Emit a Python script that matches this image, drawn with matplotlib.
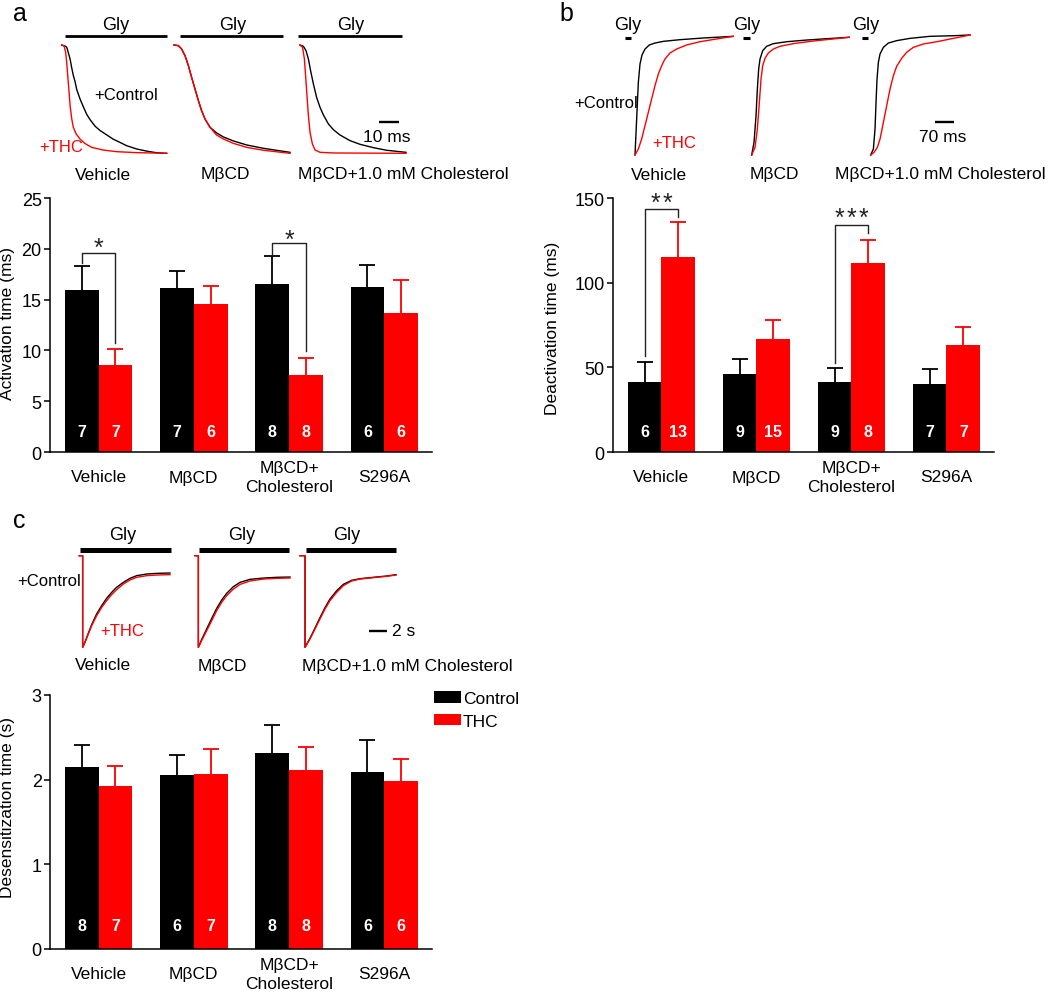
import numpy as np
import matplotlib
matplotlib.use("Agg")
import matplotlib.pyplot as plt
from matplotlib.lines import Line2D
from matplotlib.patches import Patch

plt.rcParams['font.family'] = ['Liberation Sans', 'DejaVu Sans']

# ---------------- data ----------------
groups = ["Vehicle", "MβCD", "MβCD+\nCholesterol", "S296A"]
trace_conditions = ["Vehicle", "MβCD", "MβCD+1.0 mM Cholesterol"]

# (a) activation time (ms)
act_ctrl = [15.9, 16.1, 16.5, 16.2]
act_ctrl_sem = [2.4, 1.7, 2.8, 2.2]
act_thc = [8.6, 14.6, 7.6, 13.7]
act_thc_sem = [1.5, 1.7, 1.65, 3.2]
act_n_ctrl = [7, 7, 8, 6]
act_n_thc = [7, 6, 8, 6]

# (b) deactivation time (ms)
deact_ctrl = [41.1, 45.9, 41.3, 40.2]
deact_ctrl_sem = [12.2, 9.2, 8.3, 8.8]
deact_thc = [115.0, 66.7, 111.4, 63.0]
deact_thc_sem = [21.0, 11.3, 13.6, 11.0]
deact_n_ctrl = [6, 9, 9, 7]
deact_n_thc = [13, 15, 8, 7]

# (c) desensitization time (s)
des_ctrl = [2.15, 2.05, 2.32, 2.09]
des_ctrl_sem = [0.26, 0.24, 0.32, 0.38]
des_thc = [1.93, 2.07, 2.12, 1.99]
des_thc_sem = [0.23, 0.29, 0.27, 0.25]
des_n_ctrl = [8, 6, 8, 6]
des_n_thc = [7, 7, 8, 6]

# traces (a): time in ms, normalised current (1 = baseline, 0 = peak)
a_veh_t_ctrl = [0, 1.7, 2.5, 3.3, 4.2, 5.0, 5.8, 6.7, 7.5, 9.2, 10.8, 12.5, 14.2, 16.7, 19.2, 22.5, 25.8, 29.2, 32.5, 37.5, 42.5, 47.5, 52.5]
a_veh_i_ctrl = [1.0, 0.99, 0.98, 0.93, 0.87, 0.79, 0.72, 0.66, 0.59, 0.50, 0.43, 0.36, 0.31, 0.25, 0.21, 0.17, 0.13, 0.10, 0.07, 0.04, 0.02, 0.005, 0.0]
a_veh_t_thc = [0, 1.2, 2.0, 2.5, 3.0, 3.7, 4.2, 5.0, 5.8, 7.2, 9.2, 11.7, 15.0, 20.8, 27.5, 37.5, 52.5]
a_veh_i_thc = [1.0, 0.99, 0.93, 0.84, 0.72, 0.56, 0.44, 0.32, 0.24, 0.18, 0.13, 0.09, 0.055, 0.03, 0.015, 0.006, 0.0]

a_mb_t = [0, 2.2, 3.8, 5.5, 7.2, 8.8, 10.5, 12.2, 13.8, 15.5, 18.0, 21.3, 24.7, 29.7, 36.3, 44.7, 58.0]
a_mb_i_ctrl = [1.0, 0.994, 0.963, 0.902, 0.809, 0.702, 0.594, 0.486, 0.394, 0.317, 0.24, 0.188, 0.151, 0.114, 0.077, 0.046, 0.009]
a_mb_i_thc = [1.0, 0.994, 0.963, 0.902, 0.809, 0.702, 0.594, 0.486, 0.394, 0.317, 0.24, 0.169, 0.132, 0.092, 0.055, 0.028, 0.0]

a_ch_t_ctrl = [0, 1.7, 3.0, 4.2, 5.3, 6.7, 8.3, 10.0, 11.7, 14.2, 16.7, 20.0, 25.0, 30.0, 36.7, 43.3, 53.0]
a_ch_i_ctrl = [1.0, 0.988, 0.948, 0.871, 0.763, 0.64, 0.517, 0.425, 0.354, 0.271, 0.218, 0.169, 0.117, 0.083, 0.052, 0.028, 0.009]
a_ch_t_thc = [0, 1.3, 2.2, 2.8, 3.5, 4.2, 5.0, 6.2, 7.5, 10.0, 16.7, 53.0]
a_ch_i_thc = [1.0, 0.978, 0.871, 0.717, 0.532, 0.348, 0.194, 0.086, 0.031, 0.009, 0.003, 0.0]

# traces (b): time in ms, normalised current (0 = peak, 1 = baseline)
b_veh_t_ctrl = [0, 6.0, 12.1, 18.1, 25.3, 36.2, 51.9, 72.4, 102.6, 162.9, 247.4, 356.1]
b_veh_i_ctrl = [0, 0.30, 0.606, 0.758, 0.833, 0.883, 0.917, 0.933, 0.947, 0.961, 0.975, 0.989]
b_veh_t_thc = [0, 12.1, 24.1, 36.2, 48.3, 60.4, 72.4, 84.5, 96.6, 108.6, 126.7, 150.9, 187.1, 235.4, 295.7, 356.1]
b_veh_i_thc = [0, 0.05, 0.133, 0.244, 0.356, 0.467, 0.578, 0.675, 0.744, 0.8, 0.85, 0.883, 0.917, 0.944, 0.967, 0.989]

b_mb_t_ctrl = [0, 8.4, 15.7, 20.5, 25.3, 30.2, 39.8, 54.3, 78.5, 126.7, 199.2, 271.6, 353.7]
b_mb_i_ctrl = [0, 0.106, 0.328, 0.55, 0.717, 0.8, 0.869, 0.906, 0.928, 0.944, 0.958, 0.969, 0.981]
b_mb_t_thc = [0, 12.1, 20.5, 27.8, 33.8, 39.8, 48.3, 60.4, 78.5, 102.6, 150.9, 223.3, 295.7, 353.7]
b_mb_i_thc = [0, 0.064, 0.217, 0.439, 0.633, 0.744, 0.806, 0.85, 0.883, 0.906, 0.928, 0.95, 0.967, 0.981]

b_ch_t_ctrl = [0, 9.7, 15.7, 19.3, 22.9, 27.8, 33.8, 45.9, 64.0, 94.1, 142.4, 214.8, 299.3, 359.7]
b_ch_i_ctrl = [0, 0.05, 0.217, 0.439, 0.633, 0.772, 0.842, 0.897, 0.933, 0.953, 0.972, 0.989, 0.994, 1.0]
b_ch_t_thc = [0, 12.1, 24.1, 33.8, 45.9, 57.9, 70.0, 82.1, 94.1, 112.3, 130.4, 154.5, 190.7, 239.0, 299.3, 359.7]
b_ch_i_thc = [0, 0.022, 0.064, 0.133, 0.272, 0.411, 0.55, 0.661, 0.739, 0.806, 0.856, 0.897, 0.925, 0.944, 0.972, 1.0]

# traces (c): time in s, normalised current (1 = baseline, 0 = peak)
c_veh_t = [0, 0.38, 0.38, 0.64, 1.02, 1.40, 1.96, 2.53, 3.09, 3.66, 4.22, 4.98, 5.73, 6.48, 7.61, 8.74, 10.25]
c_veh_i_ctrl = [1, 1, 0, 0.055, 0.153, 0.247, 0.364, 0.455, 0.535, 0.6, 0.655, 0.709, 0.753, 0.782, 0.8, 0.807, 0.811]
c_veh_i_thc = [1, 1, 0, 0.055, 0.145, 0.236, 0.345, 0.436, 0.509, 0.575, 0.629, 0.691, 0.735, 0.764, 0.782, 0.789, 0.793]

c_mb_t = [0, 0.38, 0.38, 0.75, 1.32, 1.89, 2.45, 3.02, 3.58, 4.34, 5.09, 6.22, 7.73, 9.24, 10.74]
c_mb_i_ctrl = [1, 1, 0, 0.084, 0.2, 0.316, 0.425, 0.516, 0.589, 0.662, 0.709, 0.742, 0.756, 0.764, 0.767]
c_mb_i_thc = [1, 1, 0, 0.073, 0.182, 0.291, 0.4, 0.491, 0.564, 0.636, 0.687, 0.724, 0.745, 0.753, 0.756]

c_ch_t = [0, 0.57, 0.57, 1.13, 1.70, 2.26, 2.83, 3.39, 4.15, 4.90, 5.84, 6.79, 8.29, 9.80, 10.86]
c_ch_i_ctrl = [1, 1, 0, 0.098, 0.211, 0.324, 0.433, 0.527, 0.618, 0.687, 0.731, 0.749, 0.764, 0.778, 0.793]
c_ch_i_thc = [1, 1, 0, 0.091, 0.2, 0.309, 0.418, 0.509, 0.6, 0.673, 0.724, 0.745, 0.76, 0.775, 0.789]

# ---------------- figure ----------------
W, H = 1050, 995
fig = plt.figure(figsize=(W / 100, H / 100), dpi=100)
RED = '#ff0000'
FS = 12.5


def px_axes(x0, x1, y0, y1):
    return fig.add_axes([x0 / W, 1 - y1 / H, (x1 - x0) / W, (y1 - y0) / H])


def ftext(x, y, s, **kw):
    kw.setdefault('fontsize', FS)
    kw.setdefault('va', 'center')
    fig.text(x / W, 1 - y / H, s, **kw)


def fline(x0, x1, y, lw):
    fig.add_artist(Line2D([x0 / W, x1 / W], [1 - y / H, 1 - y / H],
                          transform=fig.transFigure, color='black', lw=lw,
                          solid_capstyle='butt'))


def trace_ax(x0, x1, y0, y1, tmax):
    ax = px_axes(x0, x1, y0, y1)
    ax.set_xlim(0, tmax)
    ax.set_ylim(0, 1)
    ax.axis('off')
    return ax


def tplot(ax, t, i, color):
    ax.plot(t, i, color=color, lw=1.0, clip_on=False)


def bar_panel(ax, ctrl, csem, thc, tsem, nc, nt, ymax, yticks, ntext_frac):
    x = np.arange(len(groups))
    w = 0.355
    z = np.zeros(len(groups))
    ekw = dict(capsize=6, elinewidth=1.3, capthick=1.3)
    bc1 = ax.bar(x - w / 2, ctrl, w, color='black', yerr=[z, csem],
                 error_kw=dict(ecolor='black', **ekw), label='Control')
    bc2 = ax.bar(x + w / 2, thc, w, color=RED, yerr=[z, tsem],
                 error_kw=dict(ecolor=RED, **ekw), label='THC')
    for bc in (bc1, bc2):
        caps = bc.errorbar.lines[1]
        if len(caps) > 1:
            caps[0].set_visible(False)   # hide the lower cap (upper-only SEM bars)
    ax.set_xlim(-0.51, 3.5)
    ax.set_ylim(0, ymax)
    ax.set_yticks(yticks)
    ax.set_xticks(x)
    ax.set_xticklabels(groups, fontsize=FS, linespacing=1.35)
    for lab in ax.get_xticklabels():
        lab.set_va('center')
    ax.tick_params(axis='x', length=0, pad=18)
    ax.tick_params(axis='y', length=4, width=1.1, direction='out', labelsize=13, pad=2)
    for s in ['top', 'right']:
        ax.spines[s].set_visible(False)
    for s in ['left', 'bottom']:
        ax.spines[s].set_linewidth(1.1)
    tr = ax.get_xaxis_transform()
    for i in range(len(groups)):
        ax.text(i - w / 2, ntext_frac, str(nc[i]), transform=tr, color='white',
                fontweight='bold', fontsize=11.5, ha='center', va='center')
        ax.text(i + w / 2, ntext_frac, str(nt[i]), transform=tr, color='white',
                fontweight='bold', fontsize=11.5, ha='center', va='center')


def bracket(ax, xc, y_left, y_top, y_right, y_star, nstars):
    w = 0.355
    ax.plot([xc - w / 2, xc - w / 2, xc + w / 2, xc + w / 2],
            [y_left, y_top, y_top, y_right], color='#222222', lw=1.0, clip_on=False)
    for k in range(nstars):
        off = (k - (nstars - 1) / 2) * 8.8
        ax.annotate('*', xy=(xc, y_star), xytext=(off, -5.5), textcoords='offset points',
                    ha='center', va='center', fontsize=18, color='#222222',
                    annotation_clip=False)


# ---------- panel a ----------
ftext(13, 14, 'a', fontsize=18, ha='left')
for cx in (116, 233, 351):
    ftext(cx, 25, 'Gly', ha='center', fontsize=13)
fline(65, 167, 37, 2.0)
fline(180, 283, 37, 2.0)
fline(298, 402, 37, 2.0)

ax1 = trace_ax(61.7, 166.7, 46, 154.3, 52.5)
tplot(ax1, a_veh_t_ctrl, a_veh_i_ctrl, 'black')
tplot(ax1, a_veh_t_thc, a_veh_i_thc, RED)
ax2 = trace_ax(174, 290, 46, 154.3, 58.0)
tplot(ax2, a_mb_t, a_mb_i_ctrl, 'black')
tplot(ax2, a_mb_t, a_mb_i_thc, RED)
ax3 = trace_ax(300, 406, 46, 154.3, 53.0)
tplot(ax3, a_ch_t_ctrl, a_ch_i_ctrl, 'black')
tplot(ax3, a_ch_t_thc, a_ch_i_thc, RED)
ax3.plot([39.5, 49.5], [0.289, 0.289], color='black', lw=1.7, clip_on=False, solid_capstyle='butt')
ftext(387, 137, '10 ms', ha='center')
ftext(94, 96, '+Control', ha='left', fontsize=12)
ftext(39, 148, '+THC', ha='left', fontsize=12, color=RED)
ftext(103, 175, trace_conditions[0], ha='center')
ftext(225, 175, trace_conditions[1], ha='center')
ftext(298, 175, trace_conditions[2], ha='left')

axA = px_axes(50, 432, 199, 453)
bar_panel(axA, act_ctrl, act_ctrl_sem, act_thc, act_thc_sem, act_n_ctrl, act_n_thc,
          25, [0, 5, 10, 15, 20, 25], 0.079)
ftext(8, 324, 'Activation time (ms)', rotation=90, ha='center')
bracket(axA, 0, 18.6, 19.6, 10.7, 20.8, 1)
bracket(axA, 2, 19.5, 20.6, 9.9, 21.6, 1)

# ---------- panel b ----------
ftext(559, 14, 'b', fontsize=18, ha='left')
for cx in (628, 747, 866):
    ftext(cx, 25, 'Gly', ha='center', fontsize=13)
fline(625, 631, 39, 2.2)
fline(743, 750, 39, 2.2)
fline(862, 868, 39, 2.2)

bx1 = trace_ax(635, 733.3, 36, 156, 356.1)
tplot(bx1, b_veh_t_ctrl, b_veh_i_ctrl, 'black')
tplot(bx1, b_veh_t_thc, b_veh_i_thc, RED)
bx2 = trace_ax(751.7, 849.3, 36, 156, 353.7)
tplot(bx2, b_mb_t_ctrl, b_mb_i_ctrl, 'black')
tplot(bx2, b_mb_t_thc, b_mb_i_thc, RED)
bx3 = trace_ax(870.7, 970, 36, 156, 359.7)
tplot(bx3, b_ch_t_ctrl, b_ch_i_ctrl, 'black')
tplot(bx3, b_ch_t_thc, b_ch_i_thc, RED)
bx3.plot([232.8, 302.8], [0.275, 0.275], color='black', lw=1.7, clip_on=False, solid_capstyle='butt')
ftext(943, 137, '70 ms', ha='center')
ftext(574, 104, '+Control', ha='left', fontsize=12)
ftext(652, 143, '+THC', ha='left', fontsize=12, color=RED)
ftext(659, 175, trace_conditions[0], ha='center')
ftext(774, 175, trace_conditions[1], ha='center')
ftext(835, 175, trace_conditions[2], ha='left')

axB = px_axes(613, 994, 199, 453)
bar_panel(axB, deact_ctrl, deact_ctrl_sem, deact_thc, deact_thc_sem, deact_n_ctrl, deact_n_thc,
          150, [0, 50, 100, 150], 0.079)
ftext(553, 328, 'Deactivation time (ms)', rotation=90, ha='center')
bracket(axB, 0, 56.5, 143.7, 138.8, 151.4, 2)
bracket(axB, 2, 52.6, 133.9, 129.3, 142.5, 3)

# ---------- panel c ----------
ftext(13, 521, 'c', fontsize=18, ha='left')
for cx in (123, 242, 347):
    ftext(cx, 535, 'Gly', ha='center', fontsize=13)
fline(80, 171, 551, 3.6)
fline(199, 289, 551, 3.6)
fline(306, 396, 551, 3.6)

cx1 = trace_ax(79.3, 170, 556.7, 648.3, 10.25)
tplot(cx1, c_veh_t, c_veh_i_ctrl, 'black')
tplot(cx1, c_veh_t, c_veh_i_thc, RED)
cx2 = trace_ax(195, 290, 556.7, 648.3, 10.74)
tplot(cx2, c_mb_t, c_mb_i_ctrl, 'black')
tplot(cx2, c_mb_t, c_mb_i_thc, RED)
cx3 = trace_ax(300, 396, 556.7, 648.3, 10.86)
tplot(cx3, c_ch_t, c_ch_i_ctrl, 'black')
tplot(cx3, c_ch_t, c_ch_i_thc, RED)
cx3.plot([7.8, 9.8], [0.178, 0.178], color='black', lw=1.7, clip_on=False, solid_capstyle='butt')
ftext(392, 632, '2 s', ha='left')
ftext(17, 582, '+Control', ha='left', fontsize=12)
ftext(100, 632, '+THC', ha='left', fontsize=12, color=RED)
ftext(103, 666, trace_conditions[0], ha='center')
ftext(222, 666, trace_conditions[1], ha='center')
ftext(302, 666, trace_conditions[2], ha='left')

axC = px_axes(50, 432, 696, 950)
bar_panel(axC, des_ctrl, des_ctrl_sem, des_thc, des_thc_sem, des_n_ctrl, des_n_thc,
          3, [0, 1, 2, 3], 0.092)
ftext(8, 808, 'Desensitization time (s)', rotation=90, ha='center')

handles = [Patch(facecolor='black', label='Control'), Patch(facecolor=RED, label='THC')]
axC.legend(handles=handles, loc='upper left', bbox_to_anchor=(434 / W, 1 - 692 / H),
           bbox_transform=fig.transFigure, frameon=False, fontsize=12.5,
           handlelength=1.55, handleheight=0.62, handletextpad=0.1,
           labelspacing=0.45, borderpad=0, borderaxespad=0)

fig.savefig('out.png', dpi=100)
